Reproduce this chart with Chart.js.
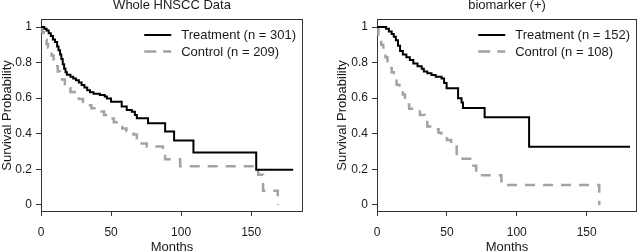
<!DOCTYPE html>
<html>
<head>
<meta charset="utf-8">
<script src="https://cdn.jsdelivr.net/npm/chart.js@4/dist/chart.umd.min.js"></script>
<style>
  html, body { margin: 0; padding: 0; background: #ffffff; }
  #wrap { position: relative; width: 640px; height: 252px; overflow: hidden; }
  canvas { position: absolute; top: 0; }
  #c1 { left: 0; }
  #c2 { left: 320px; }
</style>
</head>
<body>
<div id="wrap">
  <canvas id="c1" width="320" height="252"></canvas>
  <canvas id="c2" width="320" height="252"></canvas>
</div>
<script>
// ---------- Data ----------
const panelTitles = ["Whole HNSCC Data", "biomarker (+)"];
const seriesLabels1 = ["Treatment (n = 301)", "Control (n = 209)"];
const seriesLabels2 = ["Treatment (n = 152)", "Control (n = 108)"];
const xTickValues = [0, 50, 100, 150];
const yTickValues = [0, 0.2, 0.4, 0.6, 0.8, 1];
const xAxisTitle = "Months";
const yAxisTitle = "Survival Probability";

// Panel 1: Whole HNSCC Data
const wholeTreatMonths = [0, 2.4, 4, 5.5, 7, 8.5, 10, 11.5, 12.5, 13.6, 14.5, 15.5, 16.5, 17.5, 18.5, 21, 23, 25, 27, 29, 31, 33, 35, 37.5, 42, 45.5, 47, 50, 57.6, 61.2, 64.8, 67, 68.4, 76.4, 88.6, 95, 108.8, 153.6, 180];
const wholeTreatSurv   = [1, 0.99, 0.98, 0.965, 0.95, 0.93, 0.915, 0.89, 0.87, 0.845, 0.82, 0.79, 0.765, 0.745, 0.732, 0.72, 0.71, 0.70, 0.688, 0.674, 0.66, 0.645, 0.633, 0.625, 0.618, 0.61, 0.598, 0.58, 0.553, 0.534, 0.524, 0.506, 0.487, 0.459, 0.412, 0.362, 0.294, 0.197, 0.197];
const wholeCtrlMonths  = [0, 1, 2, 3, 4, 5, 6, 7.5, 9, 10.5, 12, 13.5, 15, 17, 19, 21, 24, 27, 30, 33, 36, 40, 45, 49, 52, 55, 58, 61, 66, 68.4, 71, 75.5, 87, 88.6, 99.3, 155, 158.5, 169];
const wholeCtrlSurv    = [1, 0.97, 0.95, 0.93, 0.905, 0.885, 0.865, 0.84, 0.81, 0.78, 0.75, 0.725, 0.705, 0.68, 0.655, 0.635, 0.615, 0.595, 0.578, 0.56, 0.543, 0.525, 0.506, 0.485, 0.465, 0.45, 0.43, 0.415, 0.395, 0.365, 0.345, 0.328, 0.303, 0.257, 0.217, 0.17, 0.08, 0];

// Panel 2: biomarker (+)
const bioTreatMonths = [0, 6.5, 8.5, 10.5, 12, 13.5, 15, 16.5, 18.5, 21, 23.5, 26, 29, 32, 33.5, 36, 39, 42, 46.2, 48, 49.8, 58, 60.5, 61.5, 77, 108.8, 181];
const bioTreatSurv   = [1, 0.99, 0.975, 0.96, 0.945, 0.925, 0.895, 0.865, 0.845, 0.83, 0.815, 0.795, 0.78, 0.765, 0.75, 0.74, 0.73, 0.72, 0.71, 0.685, 0.656, 0.6, 0.575, 0.545, 0.493, 0.327, 0.327];
const bioCtrlMonths  = [0, 1, 2, 3, 4.5, 6, 7.5, 9, 10.5, 12, 14, 16, 18.5, 20, 23, 27, 30.7, 34, 36, 40, 44, 46, 50, 53, 57, 68, 71, 89, 159];
const bioCtrlSurv    = [1, 0.95, 0.93, 0.9, 0.87, 0.83, 0.8, 0.77, 0.745, 0.715, 0.675, 0.65, 0.62, 0.565, 0.54, 0.525, 0.506, 0.487, 0.44, 0.425, 0.405, 0.39, 0.365, 0.335, 0.26, 0.22, 0.167, 0.112, 0];

// ---------- Styling / helpers ----------
const FONT = "'Liberation Sans', Arial, sans-serif";
const TEXT = "#1a1a1a";
const AXIS = "#333333";

function toPoints(xs, ys) { return xs.map((x, i) => ({ x: x, y: ys[i] })); }

const boxPlugin = {
  id: 'boxPlugin',
  beforeDatasetsDraw(chart) {
    const a = chart.chartArea, ctx = chart.ctx;
    ctx.save();
    ctx.strokeStyle = AXIS;
    ctx.lineWidth = 1;
    ctx.strokeRect(Math.round(a.left) + 0.5, Math.round(a.top) + 0.5,
                   Math.round(a.right - a.left) - 1, Math.round(a.bottom - a.top) - 1);
    ctx.restore();
  }
};

const legendPlugin = {
  id: 'rLegend',
  afterDraw(chart) {
    const a = chart.chartArea, ctx = chart.ctx;
    ctx.save();
    ctx.font = "13px " + FONT;
    const labels = chart.data.datasets.map(d => d.label);
    const maxW = Math.max(...labels.map(l => ctx.measureText(l).width));
    const textX = a.right - maxW - 7;
    const lineLen = 27, gap = 10;
    chart.data.datasets.forEach((d, i) => {
      const y = a.top + 16 + i * 16.5;
      ctx.strokeStyle = d.borderColor;
      ctx.lineWidth = d.borderWidth;
      ctx.setLineDash(d.legendDash || []);
      ctx.beginPath();
      ctx.moveTo(textX - gap - lineLen, y);
      ctx.lineTo(textX - gap, y);
      ctx.stroke();
      ctx.setLineDash([]);
      ctx.fillStyle = TEXT;
      ctx.textAlign = 'left';
      ctx.textBaseline = 'middle';
      ctx.fillText(d.label, textX, y + 0.5);
    });
    ctx.restore();
  }
};

function makeChart(canvasId, title, labels, tM, tS, cM, cS, xMax, padLeft, yWidth, padRight) {
  return new Chart(document.getElementById(canvasId), {
    type: 'line',
    data: {
      datasets: [
        { label: labels[0], data: toPoints(tM, tS), borderColor: '#000000', borderWidth: 2,
          stepped: 'before', pointRadius: 0, fill: false, legendDash: [] },
        { label: labels[1], data: toPoints(cM, cS), borderColor: '#a3a3a3', borderWidth: 2.5,
          borderDash: [10, 8], stepped: 'before', pointRadius: 0, fill: false, legendDash: [12, 7] }
      ]
    },
    options: {
      responsive: false,
      animation: false,
      devicePixelRatio: 1,
      layout: { padding: { left: padLeft, right: padRight, top: 0, bottom: 0 } },
      plugins: {
        legend: { display: false },
        tooltip: { enabled: false },
        title: {
          display: true, text: title, fullSize: false, color: TEXT,
          font: { family: FONT, size: 13, weight: 'normal', lineHeight: '10px' },
          padding: { top: 0, bottom: 9 }
        }
      },
      scales: {
        x: {
          type: 'linear', min: 0, max: xMax,
          afterBuildTicks: s => { s.ticks = xTickValues.map(v => ({ value: v })); },
          afterFit: s => { s.height = 40; },
          border: { display: false },
          grid: { drawOnChartArea: false, drawTicks: true, tickLength: 4, color: AXIS, tickColor: AXIS },
          ticks: { color: TEXT, font: { family: FONT, size: 12 }, padding: 9, maxRotation: 0,
                   callback: v => String(v) },
          title: { display: true, text: xAxisTitle, color: TEXT,
                   font: { family: FONT, size: 13, lineHeight: '10px' }, padding: 0 }
        },
        y: {
          type: 'linear', min: -0.04, max: 1.045,
          afterBuildTicks: s => { s.ticks = yTickValues.map(v => ({ value: v })); },
          afterFit: s => { s.width = yWidth; },
          border: { display: false },
          grid: { drawOnChartArea: false, drawTicks: true, tickLength: 5, color: AXIS, tickColor: AXIS },
          ticks: { color: TEXT, font: { family: FONT, size: 12 }, padding: 4,
                   callback: v => String(Math.round(v * 10) / 10) },
          title: { display: true, text: yAxisTitle, color: TEXT,
                   font: { family: FONT, size: 13, lineHeight: '13px' }, padding: 0 }
        }
      }
    },
    plugins: [boxPlugin, legendPlugin]
  });
}

makeChart('c1', panelTitles[0], seriesLabels1, wholeTreatMonths, wholeTreatSurv, wholeCtrlMonths, wholeCtrlSurv, 187, 1, 40, 17);
makeChart('c2', panelTitles[1], seriesLabels2, bioTreatMonths, bioTreatSurv, bioCtrlMonths, bioCtrlSurv, 186, 16, 41, 3);
</script>
</body>
</html>
